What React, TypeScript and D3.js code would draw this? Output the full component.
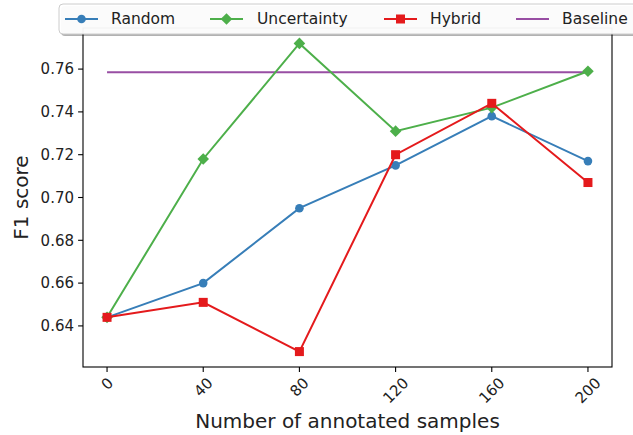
import * as d3 from "d3";

const width = 633;
const height = 435;
const margin = { top: 28, right: 21, bottom: 68, left: 83 };
const innerWidth = width - margin.left - margin.right;
const innerHeight = height - margin.top - margin.bottom;

const samples = [0, 40, 80, 120, 160, 200];
const randomF1 = [0.644, 0.66, 0.695, 0.715, 0.738, 0.717];
const uncertaintyF1 = [0.644, 0.718, 0.772, 0.731, 0.742, 0.759];
const hybridF1 = [0.644, 0.651, 0.628, 0.72, 0.744, 0.707];
const baselineF1 = 0.7585;
const yTicks = [0.64, 0.66, 0.68, 0.7, 0.72, 0.74, 0.76];

const font = "DejaVu Sans, sans-serif";

const series = [
  { name: "Random", values: randomF1, color: "#377eb8", marker: "circle" },
  { name: "Uncertainty", values: uncertaintyF1, color: "#4daf4a", marker: "diamond" },
  { name: "Hybrid", values: hybridF1, color: "#e41a1c", marker: "square" },
];

function Marker({ type, x, y, color }: { type: string; x: number; y: number; color: string }) {
  if (type === "circle") return <circle cx={x} cy={y} r={4.3} fill={color} />;
  if (type === "square") return <rect x={x - 4.5} y={y - 4.5} width={9} height={9} fill={color} />;
  const s = 5.8;
  return <path d={`M${x},${y - s}L${x + s},${y}L${x},${y + s}L${x - s},${y}Z`} fill={color} />;
}

export default function App() {
  const xScale = d3.scaleLinear().domain([-10, 210]).range([0, innerWidth]);
  const yScale = d3.scaleLinear().domain([0.6208, 0.7792]).range([innerHeight, 0]);

  const lineGen = d3
    .line<number>()
    .x((_, i) => xScale(samples[i]))
    .y((d) => yScale(d));

  const legendItems = [
    { name: "Random", color: "#377eb8", marker: "circle", x0: 65, tx: 111 },
    { name: "Uncertainty", color: "#4daf4a", marker: "diamond", x0: 210, tx: 257 },
    { name: "Hybrid", color: "#e41a1c", marker: "square", x0: 384, tx: 430 },
    { name: "Baseline", color: "#984ea3", marker: "", x0: 516, tx: 562 },
  ];

  return (
    <svg width={width} height={height} style={{ position: "absolute", left: 0, top: 0, background: "#fff" }}>
      <g transform={`translate(${margin.left},${margin.top})`}>
        {/* y axis ticks */}
        {yTicks.map((t) => (
          <g key={t} transform={`translate(0,${yScale(t)})`}>
            <line x1={-4.9} x2={0} stroke="#000" strokeWidth={1.1} />
            <text x={-9} dy="0.35em" textAnchor="end" fontSize={15} fontFamily={font} fill="#222">
              {t.toFixed(2)}
            </text>
          </g>
        ))}
        {/* x axis ticks */}
        {samples.map((s) => {
          const label = String(s);
          const w = label.length * 0.636 * 15;
          const h = 15;
          const off = (w + h) / Math.SQRT2 / 2;
          return (
            <g key={s} transform={`translate(${xScale(s)},${innerHeight})`}>
              <line y1={0} y2={4.9} stroke="#000" strokeWidth={1.1} />
              <text
                transform={`translate(0,${8 + off}) rotate(-45)`}
                textAnchor="middle"
                dy="0.35em"
                fontSize={15}
                fontFamily={font}
                fill="#222"
              >
                {label}
              </text>
            </g>
          );
        })}

        {/* baseline */}
        <line
          x1={xScale(0)}
          x2={xScale(200)}
          y1={yScale(baselineF1)}
          y2={yScale(baselineF1)}
          stroke="#984ea3"
          strokeWidth={2}
        />

        {series.map((s) => (
          <g key={s.name}>
            <path d={lineGen(s.values) ?? ""} fill="none" stroke={s.color} strokeWidth={2} />
            {s.values.map((v, i) => (
              <Marker key={i} type={s.marker} x={xScale(samples[i])} y={yScale(v)} color={s.color} />
            ))}
          </g>
        ))}

        <rect x={0} y={0} width={innerWidth} height={innerHeight} fill="none" stroke="#000" strokeWidth={1.1} />
      </g>

      {/* labels */}
      <text
        transform={`translate(28,${margin.top + innerHeight / 2}) rotate(-90)`}
        textAnchor="middle"
        fontSize={20}
        fontFamily={font}
        fill="#222"
      >
        F1 score
      </text>
      <text x={margin.left + innerWidth / 2} y={428} textAnchor="middle" fontSize={20} fontFamily={font} fill="#222">
        Number of annotated samples
      </text>

      {/* legend */}
      <g>
        <rect x={61} y={6} width={600} height={30} rx={4} fill="#000" opacity={0.3} />
        <rect x={59} y={4} width={600} height={30} rx={4} fill="#fff" fillOpacity={0.95} stroke="#ccc" strokeWidth={1} />
        {legendItems.map((it) => (
          <g key={it.name}>
            <line x1={it.x0} x2={it.x0 + 33} y1={19} y2={19} stroke={it.color} strokeWidth={2} />
            {it.marker && <Marker type={it.marker} x={it.x0 + 16.5} y={19} color={it.color} />}
            <text x={it.tx} y={19} dy="0.35em" fontSize={15.5} fontFamily={font} fill="#222">
              {it.name}
            </text>
          </g>
        ))}
      </g>
    </svg>
  );
}
